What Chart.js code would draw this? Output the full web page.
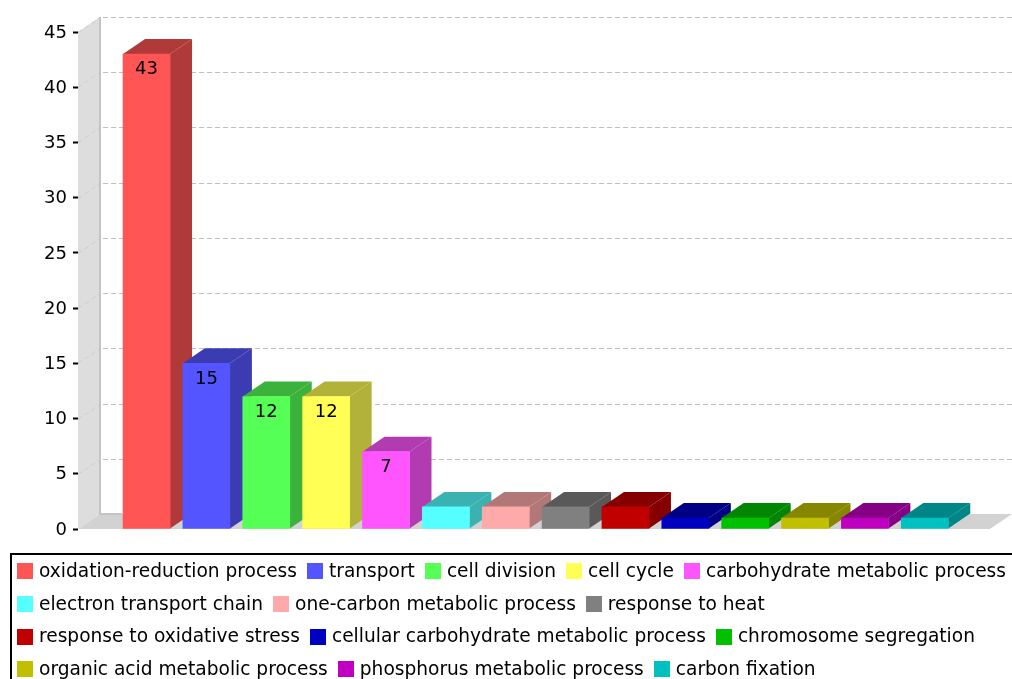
<!DOCTYPE html>
<html>
<head>
<meta charset="utf-8">
<script src="https://cdn.jsdelivr.net/npm/chart.js@4"></script>
<style>
  html, body { margin: 0; padding: 0; background: #fff; overflow: hidden; }
  #wrap { position: relative; width: 1012px; height: 679px; overflow: hidden; }
  #legend {
    position: absolute; left: 10px; top: 553px; width: 1010px; height: 140px;
    border: 2px solid #000; box-sizing: border-box; padding: 0 0 0 5px;
    display: flex; flex-wrap: wrap; align-content: flex-start;
    font: 18.6px "DejaVu Sans", sans-serif; color: #000;
  }
  .item { display: flex; align-items: center; height: 32.7px; margin-right: 10px; white-space: nowrap; }
  .swatch { width: 16px; height: 16px; margin-right: 6px; }
  .name { position: relative; top: -1px; }
</style>
</head>
<body>
<div id="wrap">
  <canvas id="barchart" width="1012" height="679"></canvas>
  <div id="legend"></div>
</div>
<script>
const categories = [
  "oxidation-reduction process", "transport", "cell division", "cell cycle",
  "carbohydrate metabolic process", "electron transport chain",
  "one-carbon metabolic process", "response to heat",
  "response to oxidative stress", "cellular carbohydrate metabolic process",
  "chromosome segregation", "organic acid metabolic process",
  "phosphorus metabolic process", "carbon fixation",
];
const values = [43, 15, 12, 12, 7, 2, 2, 2, 2, 1, 1, 1, 1, 1];
const colors = [
  "#ff5555", "#5555ff", "#55ff55", "#ffff55", "#ff55ff", "#55ffff", "#ffaaaa",
  "#808080", "#c00000", "#0000c0", "#00c000", "#c0c000", "#c000c0", "#00c0c0",
];
const sideColors = [
  "#b03a3a", "#3b3bb2", "#3bb23b", "#b2b23b", "#b23bb2", "#3bb2b2", "#b27777",
  "#595959", "#860000", "#000086", "#008600", "#868600", "#860086", "#008686",
];
const yTicks = [0, 5, 10, 15, 20, 25, 30, 35, 40, 45];

// extrusion of the fake 3D box
const DEPTH_X = 22;
const DEPTH_Y = 15;

function poly(ctx, pts, fill) {
  ctx.beginPath();
  pts.forEach((p, i) => (i ? ctx.lineTo(p[0], p[1]) : ctx.moveTo(p[0], p[1])));
  ctx.closePath();
  ctx.fillStyle = fill;
  ctx.fill();
}

// walls, floor and dashed grid behind the bars, then the side and top of each bar
const box3d = {
  id: "box3d",
  beforeDatasetsDraw(chart) {
    const { ctx, chartArea: a, scales: { y } } = chart;
    const canvasRight = chart.width;
    ctx.save();
    poly(ctx, [[a.left, a.top], [a.left + DEPTH_X, a.top - DEPTH_Y], [a.left + DEPTH_X, a.bottom - DEPTH_Y], [a.left, a.bottom]], "#dddddd");
    poly(ctx, [[a.left, a.bottom], [a.left + DEPTH_X, a.bottom - DEPTH_Y], [canvasRight, a.bottom - DEPTH_Y], [a.right, a.bottom]], "#d2d2d2");

    ctx.lineWidth = 1;
    ctx.setLineDash([5, 3]);
    yTicks.forEach((t) => {
      if (t === 0) return;
      const py = Math.round(y.getPixelForValue(t)) + 0.5;
      // fainter on the side wall than on the back wall
      ctx.strokeStyle = "#cdcdcd";
      ctx.lineDashOffset = 0;
      ctx.beginPath();
      ctx.moveTo(a.left, py);
      ctx.lineTo(a.left + DEPTH_X, py - DEPTH_Y);
      ctx.stroke();
      ctx.strokeStyle = "#c0c0c0";
      ctx.lineDashOffset = -3;
      ctx.beginPath();
      ctx.moveTo(a.left + DEPTH_X, py - DEPTH_Y);
      ctx.lineTo(canvasRight, py - DEPTH_Y);
      ctx.stroke();
    });
    ctx.setLineDash([]);

    ctx.strokeStyle = "#c4c4c4";
    ctx.lineWidth = 2;
    ctx.beginPath();
    ctx.moveTo(a.left + DEPTH_X, a.top - DEPTH_Y);
    ctx.lineTo(a.left + DEPTH_X, a.bottom - DEPTH_Y);
    ctx.lineTo(a.left + DEPTH_X + 22, a.bottom - DEPTH_Y);
    ctx.stroke();

    chart.getDatasetMeta(0).data.forEach((bar, i) => {
      const r = bar.x + bar.width / 2;
      const l = bar.x - bar.width / 2;
      poly(ctx, [[r, bar.y], [r + DEPTH_X, bar.y - DEPTH_Y], [r + DEPTH_X, bar.base - DEPTH_Y], [r, bar.base]], sideColors[i]);
      poly(ctx, [[l, bar.y], [l + DEPTH_X, bar.y - DEPTH_Y], [r + DEPTH_X, bar.y - DEPTH_Y], [r, bar.y]], sideColors[i]);
    });
    ctx.restore();
  },
  // value labels sit just inside the top of the taller bars
  afterDatasetsDraw(chart) {
    const { ctx } = chart;
    ctx.save();
    ctx.font = '18px "DejaVu Sans", sans-serif';
    ctx.fillStyle = "#000";
    ctx.textAlign = "center";
    ctx.textBaseline = "middle";
    chart.getDatasetMeta(0).data.forEach((bar, i) => {
      if (values[i] >= 5) ctx.fillText(values[i], bar.x, bar.y + 15.5);
    });
    ctx.restore();
  },
};

new Chart(document.getElementById("barchart"), {
  type: "bar",
  data: {
    datasets: [{
      data: values.map((v, i) => ({ x: i, y: v })),
      backgroundColor: colors,
      barThickness: 47,
    }],
  },
  options: {
    responsive: false,
    animation: false,
    layout: { padding: { top: 32, bottom: 150, left: 0, right: 22 } },
    plugins: { legend: { display: false }, tooltip: { enabled: false } },
    scales: {
      x: { type: "linear", display: false, offset: false, min: -1.145, max: 14.09 },
      y: {
        min: 0,
        max: 45,
        afterFit: (scale) => { scale.width = 78; },
        afterBuildTicks: (scale) => { scale.ticks = yTicks.map((value) => ({ value })); },
        border: { display: false },
        grid: { drawOnChartArea: false, tickLength: 5, tickColor: "#000", tickWidth: 2 },
        ticks: { color: "#000", padding: 6, labelOffset: 1, font: { family: "DejaVu Sans", size: 18 } },
      },
    },
  },
  plugins: [box3d],
});

// legend rows wrap like the original box
const legend = document.getElementById("legend");
categories.forEach((name, i) => {
  const item = document.createElement("div");
  item.className = "item";
  const swatch = document.createElement("span");
  swatch.className = "swatch";
  swatch.style.background = colors[i];
  const text = document.createElement("span");
  text.className = "name";
  text.textContent = name;
  item.appendChild(swatch);
  item.appendChild(text);
  legend.appendChild(item);
});
</script>
</body>
</html>
